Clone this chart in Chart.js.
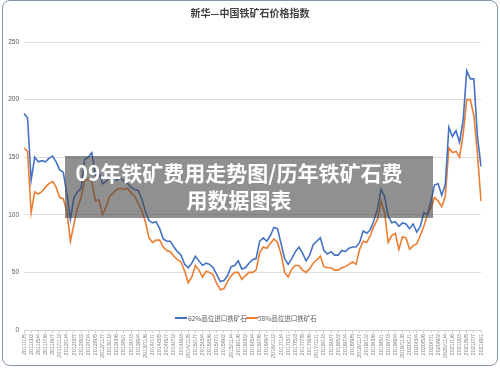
<!DOCTYPE html>
<html lang="zh-CN">
<head>
    <title>新华—中国铁矿石价格指数</title>
    <meta charset="UTF-8">
    <script src="https://cdn.jsdelivr.net/npm/chart.js"></script>
    <style>
        body {
            margin: 0;
            background: #fff;
            font-family: "Noto Sans CJK SC", sans-serif;
        }
        #wrap {
            position: relative;
            width: 500px;
            height: 375px;
            overflow: hidden;
        }
        #frame {
            position: absolute;
            left: 2px;
            top: 0;
            width: 494px;
            height: 364px;
            border: 1px solid #8394ab;
            border-radius: 8px;
            pointer-events: none;
        }
        #overlay {
            position: absolute;
            left: 65px;
            top: 156px;
            width: 368px;
            height: 62px;
            background: rgba(70, 70, 70, 0.6);
        }
        #overlay div {
            width: 348px;
            padding-top: 3px;
            color: #fff;
            font-weight: bold;
            font-size: 21px;
            line-height: 27px;
            text-align: center;
        }
    </style>
</head>
<body>
<div id="wrap">
    <canvas id="chart" width="500" height="375"></canvas>
    <div id="frame"></div>
    <div id="overlay"><div>09年铁矿费用走势图/历年铁矿石费<br>用数据图表</div></div>
</div>
<script>
    // 日期 (每月第一个周三)
    const dates = [
        '2011/1/5','2011/2/2','2011/3/2','2011/4/6','2011/5/4','2011/6/1','2011/7/6','2011/8/3','2011/9/7','2011/10/5','2011/11/2','2011/12/7',
        '2012/1/4','2012/2/1','2012/3/7','2012/4/4','2012/5/2','2012/6/6','2012/7/4','2012/8/1','2012/9/5','2012/10/3','2012/11/7','2012/12/5',
        '2013/1/2','2013/2/6','2013/3/6','2013/4/3','2013/5/1','2013/6/5','2013/7/3','2013/8/7','2013/9/4','2013/10/2','2013/11/6','2013/12/4',
        '2014/1/1','2014/2/5','2014/3/5','2014/4/2','2014/5/7','2014/6/4','2014/7/2','2014/8/6','2014/9/3','2014/10/1','2014/11/5','2014/12/3',
        '2015/1/7','2015/2/4','2015/3/4','2015/4/1','2015/5/6','2015/6/3','2015/7/1','2015/8/5','2015/9/2','2015/10/7','2015/11/4','2015/12/2',
        '2016/1/6','2016/2/3','2016/3/2','2016/4/6','2016/5/4','2016/6/1','2016/7/6','2016/8/3','2016/9/7','2016/10/5','2016/11/2','2016/12/7',
        '2017/1/4','2017/2/1','2017/3/1','2017/4/5','2017/5/3','2017/6/7','2017/7/5','2017/8/2','2017/9/6','2017/10/4','2017/11/1','2017/12/6',
        '2018/1/3','2018/2/7','2018/3/7','2018/4/4','2018/5/2','2018/6/6','2018/7/4','2018/8/1','2018/9/5','2018/10/3','2018/11/7','2018/12/5',
        '2019/1/2','2019/2/6','2019/3/6','2019/4/3','2019/5/1','2019/6/5','2019/7/3','2019/8/7','2019/9/4','2019/10/2','2019/11/6','2019/12/4',
        '2020/1/1','2020/2/5','2020/3/4','2020/4/1','2020/5/6','2020/6/3','2020/7/1','2020/8/5','2020/9/2','2020/10/7','2020/11/4','2020/12/2',
        '2021/1/6','2021/2/3','2021/3/3','2021/4/7','2021/5/5','2021/6/2','2021/7/7','2021/8/4','2021/9/1'
    ];

    // 62%品位进口铁矿石
    const fe62 = [
        188,184,130,150,146,147,146,149,151,146,139,137,
        118,96,115,120,123,148,150,154,134,137,127,129,
        133,132,130,132,129,127,124,122,121,114,103,95,
        93,94,88,79,77,77,72,68,65,57,54,58,
        64,60,56,58,57,54,48,42,43,47,55,56,
        60,53,54,58,61,62,77,80,77,82,89,88,
        75,62,57,62,68,72,67,60,65,74,77,80,
        69,66,68,65,65,69,68,71,72,72,76,86,
        84,87,95,105,122,116,99,93,94,90,93,92,
        88,92,85,90,102,100,112,126,127,117,126,176,
        168,173,163,182,225,218,218,168,142
    ];

    // 58%品位进口铁矿石
    const fe58 = [
        158,155,102,120,118,120,124,127,129,124,115,114,
        103,77,92,106,115,130,131,129,112,113,100,107,
        116,119,122,123,122,123,119,116,110,104,94,80,
        76,78,78,72,69,68,64,61,59,51,41,46,
        56,52,46,51,50,48,40,35,36,42,47,50,
        50,44,47,50,50,52,67,72,71,75,79,76,
        66,50,46,53,56,56,52,50,53,58,61,64,
        55,54,54,52,52,54,55,57,59,57,70,77,
        76,82,90,96,112,102,76,82,84,70,81,80,
        70,73,75,82,90,100,106,115,112,107,116,158,
        154,155,150,170,200,200,186,153,112
    ];

    const seriesNames = ['62%品位进口铁矿石', '58%品位进口铁矿石'];
    const yTicks = [0, 50, 100, 150, 200, 250];

    // 标题和图例
    const decor = {
        id: 'decor',
        afterDraw(chart) {
            const ctx = chart.ctx;
            ctx.save();
            ctx.fillStyle = '#404040';
            ctx.font = 'bold 10px "Noto Sans CJK SC"';
            ctx.textAlign = 'center';
            ctx.textBaseline = 'middle';
            ctx.fillText('新华—中国铁矿石价格指数', 250, 13);

            const items = [[175, 188], [246, 258]];
            ctx.font = '6.5px "Noto Sans CJK SC"';
            ctx.textAlign = 'left';
            chart.data.datasets.forEach((ds, i) => {
                ctx.strokeStyle = ds.borderColor;
                ctx.lineWidth = 2;
                ctx.beginPath();
                ctx.moveTo(items[i][0], 318);
                ctx.lineTo(items[i][0] + 12, 318);
                ctx.stroke();
                ctx.fillStyle = '#595959';
                ctx.fillText(ds.label, items[i][1], 318.5);
            });
            ctx.restore();
        }
    };

    new Chart(document.getElementById('chart'), {
        type: 'line',
        data: {
            labels: dates,
            datasets: [
                {
                    label: seriesNames[0],
                    data: fe62,
                    borderColor: '#4472c4',
                    borderWidth: 1.6,
                    pointRadius: 0,
                    tension: 0
                },
                {
                    label: seriesNames[1],
                    data: fe58,
                    borderColor: '#ed7d31',
                    borderWidth: 1.6,
                    pointRadius: 0,
                    tension: 0
                }
            ]
        },
        options: {
            responsive: false,
            animation: false,
            devicePixelRatio: 1,
            layout: { padding: { top: 42, right: 19, left: 0, bottom: 0 } },
            plugins: {
                legend: { display: false },
                title: { display: false },
                tooltip: { enabled: false }
            },
            scales: {
                x: {
                    offset: false,
                    afterFit: s => { s.height = 45; },
                    afterBuildTicks: s => { s.ticks = s.ticks.filter((t, i) => i % 2 === 0); },
                    grid: { drawOnChartArea: false, color: '#d0d0d0', tickLength: 3 },
                    border: { color: '#d0d0d0' },
                    ticks: {
                        autoSkip: false,
                        minRotation: 90,
                        maxRotation: 90,
                        padding: 1,
                        color: '#7f7f7f',
                        font: { size: 5.5, family: 'Liberation Sans' }
                    }
                },
                y: {
                    min: 0,
                    max: 250,
                    afterFit: s => { s.width = 24; },
                    afterBuildTicks: s => { s.ticks = yTicks.map(v => ({ value: v })); },
                    grid: { color: '#dedede', drawTicks: false },
                    border: { display: false },
                    ticks: {
                        padding: 5,
                        color: '#595959',
                        font: { size: 6.5, family: 'Liberation Sans' }
                    }
                }
            }
        },
        plugins: [decor]
    });
</script>
</body>
</html>
